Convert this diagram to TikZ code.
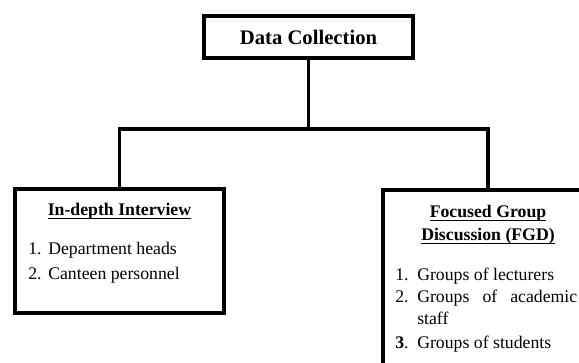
\documentclass[tikz,border=0pt]{standalone}
\usepackage{fontspec}
\setmainfont{Liberation Serif}
\newcommand{\bodysize}{\fontsize{13.3}{16}\selectfont}
\newcommand{\ulbar}[1]{\setbox0\hbox{#1}\rlap{\vrule width \wd0 height -1.9pt depth 2.7pt}\box0}
\begin{document}
\begin{tikzpicture}[x=0.75pt,y=-0.75pt,
	box/.style={draw,line width=2.6pt,inner sep=0pt},
	link/.style={line width=2.6pt},
	txt/.style={inner sep=0pt,anchor=base west,font=\bodysize},
	head/.style={inner sep=0pt,anchor=base,font=\bodysize\bfseries}]
	\path[use as bounding box] (0,0) rectangle (579,362);
	\clip (0,0) rectangle (579,362);
	\node[box,minimum width=156.75pt,minimum height=31.5pt] (collect) at (308.5,37) {};
	\node[inner sep=0pt,anchor=base,font=\fontsize{15.5}{18}\selectfont\bfseries] (title) at (308.5,44) {Data Collection};
	\node[box,minimum width=156.75pt,minimum height=93pt] (interview) at (119.5,251) {};
	\node[box,minimum width=157.5pt,minimum height=142.5pt] (fgd) at (488,285) {};
	\coordinate (stem) at (collect.south |- 0,129);
	\draw[link] (collect.south) -- (stem);
	\draw[link] (interview.north) |- (stem) -| (fgd.north);
	\node[head] (ihead) at (119.5,215) {\ulbar{In-depth Interview}};
	\node[txt] (inum1) at (28,254) {1.};
	\node[txt] (item1) at (48,254) {Department heads};
	\node[txt] (inum2) at (28,279) {2.};
	\node[txt] (item2) at (48,279) {Canteen personnel};
	\node[head] (fhead1) at (488,217) {\ulbar{Focused Group}};
	\node[head] (fhead2) at (488,240) {\ulbar{Discussion (FGD)}};
	\node[txt] (fnum1) at (395,280) {1.};
	\node[txt] (fitem1) at (417,280) {Groups of lecturers};
	\node[txt] (fnum2) at (395,302) {2.};
	\node[txt] (fitem2) at (417,302) {\makebox[120pt][s]{Groups of academic}};
	\node[txt] (fitem2b) at (417,324) {staff};
	\node[txt] (fnum3) at (395,348) {\textbf{3}.};
	\node[txt] (fitem3) at (417,348) {Groups of students};
\end{tikzpicture}
\end{document}
